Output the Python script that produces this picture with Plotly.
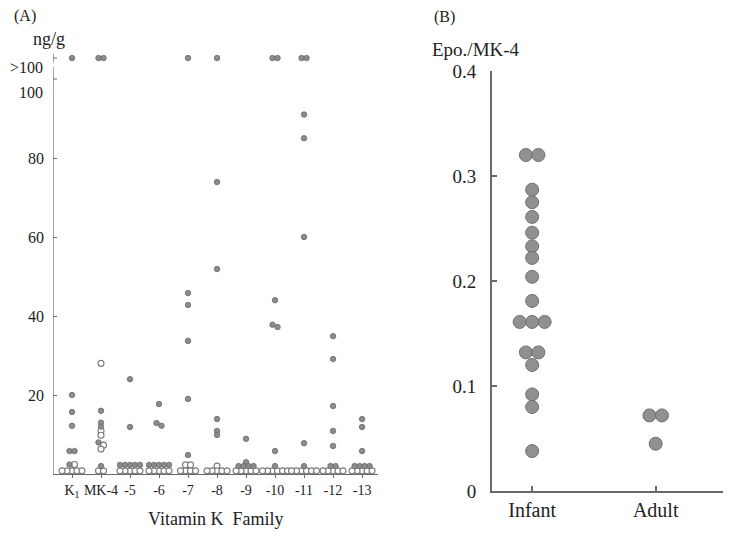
import plotly.graph_objects as go

# ---------------- data ----------------
OVER = 105.3  # plotting level used for the ">100 ng/g" row

cats_A = ["K<sub>1</sub>", "MK-4", "-5", "-6", "-7", "-8", "-9", "-10", "-11", "-12", "-13"]

filled_K1 = [OVER, 20.0, 15.7, 12.2, 5.8, 5.8, 2.4]
filled_MK4 = [OVER, OVER, 16.0, 13.0, 12.0, 8.0, 2.0]
filled_5 = [24.0, 11.9, 2.3, 2.3, 2.3, 2.3, 2.3]
filled_6 = [17.7, 12.9, 12.2, 2.3, 2.3, 2.3, 2.3, 2.3]
filled_7 = [OVER, 45.8, 42.8, 33.7, 19.0, 4.8]
filled_8 = [OVER, 73.9, 51.9, 13.9, 10.9, 9.9]
filled_9 = [8.9, 3.0, 2.0, 2.0, 2.0, 2.0]
filled_10 = [OVER, OVER, 44.0, 37.8, 37.2, 5.8, 2.0]
filled_11 = [OVER, OVER, 91.0, 85.0, 60.0, 7.8, 2.0]
filled_12 = [34.9, 29.1, 17.2, 10.9, 7.1, 2.0, 2.0]
filled_13 = [13.9, 11.9, 5.8, 2.0, 2.0, 2.0, 2.0]

open_K1 = [2.4, 0.8, 0.8, 0.8, 0.8, 0.8]
open_MK4 = [28.0, 10.9, 9.8, 7.3, 6.3, 0.8, 0.8]
open_5 = [0.8, 0.8, 0.8, 0.8, 0.8]
open_6 = [0.8, 0.8, 0.8, 0.8, 0.8]
open_7 = [2.3, 2.3, 0.8, 0.8, 0.8, 0.8]
open_8 = [2.0, 0.8, 0.8, 0.8, 0.8, 0.8]
open_9 = [0.8, 0.8, 0.8, 0.8, 0.8]
open_10 = [0.8, 0.8, 0.8, 0.8, 0.8, 0.8]
open_11 = [0.8, 0.8, 0.8, 0.8, 0.8, 0.8]
open_12 = [0.8, 0.8, 0.8, 0.8, 0.8]
open_13 = [0.8, 0.8, 0.8, 0.8, 0.8]

filled_A = [filled_K1, filled_MK4, filled_5, filled_6, filled_7, filled_8,
            filled_9, filled_10, filled_11, filled_12, filled_13]
open_A = [open_K1, open_MK4, open_5, open_6, open_7, open_8,
          open_9, open_10, open_11, open_12, open_13]

ytick_vals_A = [20, 40, 60, 80]

cats_B = ["Infant", "Adult"]
ratio_infant = [0.32, 0.32, 0.287, 0.275, 0.261, 0.246, 0.233, 0.222, 0.204,
                0.181, 0.161, 0.161, 0.161, 0.132, 0.132, 0.120, 0.092, 0.080, 0.038]
ratio_adult = [0.072, 0.072, 0.045]
ratio_B = [ratio_infant, ratio_adult]
ytick_vals_B = [0, 0.1, 0.2, 0.3, 0.4]

# ---------------- geometry ----------------
W, H = 732, 536


def px_x(s):
    return s / W


def px_y(s):
    return 1 - s / H


A_px_x = (53, 378)
A_px_y = (474, 39.5)
A_xr = [-0.655, 10.55]
A_yr = [0, 110]
B_px_x = (492, 723)
B_px_y = (491, 71)
B_xr = [-0.325, 1.545]
B_yr = [0, 0.4]

A_ppx = (A_px_x[1] - A_px_x[0]) / (A_xr[1] - A_xr[0])
A_ppy = (A_px_y[0] - A_px_y[1]) / (A_yr[1] - A_yr[0])
B_ppx = (B_px_x[1] - B_px_x[0]) / (B_xr[1] - B_xr[0])
B_ppy = (B_px_y[0] - B_px_y[1]) / (B_yr[1] - B_yr[0])


def swarm(vals, ppy, step, thresh):
    """Horizontal pixel offsets so overlapping points sit side by side."""
    n = len(vals)
    ys = [v * ppy for v in vals]
    order = sorted(range(n), key=lambda i: -vals[i])
    off = [0.0] * n
    placed = []
    cands = [0.0] + [s * k * step for k in range(1, 12) for s in (1, -1)]
    for i in order:
        chosen = 0.0
        for c in cands:
            if all((c - off[j]) ** 2 + (ys[i] - ys[j]) ** 2 >= thresh ** 2 - 1e-9 for j in placed):
                chosen = c
                break
        off[i] = chosen
        placed.append(i)
    parent = list(range(n))

    def find(a):
        while parent[a] != a:
            parent[a] = parent[parent[a]]
            a = parent[a]
        return a

    for i in range(n):
        for j in range(i + 1, n):
            if abs(ys[i] - ys[j]) < thresh:
                parent[find(i)] = find(j)
    comps = {}
    for i in range(n):
        comps.setdefault(find(i), []).append(i)
    for mem in comps.values():
        if len(mem) > 1:
            m = sum(off[k] for k in mem) / len(mem)
            for k in mem:
                off[k] -= m
    return off


FILL = "#8c8c8c"
EDGE = "#6a6a6a"
AXC = "#6a6a6a"
TXT = "#222222"
FONT = "Liberation Serif"

fig = go.Figure()

fx, fy, ox, oy = [], [], [], []
for ci in range(len(cats_A)):
    f = filled_A[ci]
    o = open_A[ci]
    allv = f + o
    offs = swarm(allv, A_ppy, 5.0, 3.5)
    for k, v in enumerate(allv):
        xv = ci + offs[k] / A_ppx
        if k < len(f):
            fx.append(xv); fy.append(v)
        else:
            ox.append(xv); oy.append(v)

fig.add_trace(go.Scatter(x=ox, y=oy, mode="markers", xaxis="x", yaxis="y",
                         marker=dict(size=6, color="white", line=dict(color="#7a7a7a", width=1.1)),
                         cliponaxis=False, showlegend=False, hoverinfo="skip"))
fig.add_trace(go.Scatter(x=fx, y=fy, mode="markers", xaxis="x", yaxis="y",
                         marker=dict(size=5.5, color=FILL, line=dict(color=EDGE, width=0.8)),
                         cliponaxis=False, showlegend=False, hoverinfo="skip"))

bx, by = [], []
for gi in range(len(cats_B)):
    vals = ratio_B[gi]
    offs = swarm(vals, B_ppy, 12.5, 10.0)
    for k, v in enumerate(vals):
        bx.append(gi + offs[k] / B_ppx)
        by.append(v)
fig.add_trace(go.Scatter(x=bx, y=by, mode="markers", xaxis="x2", yaxis="y2",
                         marker=dict(size=13, color="#909090", line=dict(color="#707070", width=1)),
                         cliponaxis=False, showlegend=False, hoverinfo="skip"))

fig.update_layout(
    width=W, height=H, autosize=False, hovermode=False,
    margin=dict(l=0, r=0, t=0, b=0, pad=0, autoexpand=False),
    paper_bgcolor="white", plot_bgcolor="white",
    xaxis=dict(domain=[px_x(A_px_x[0]), px_x(A_px_x[1])], range=A_xr, anchor="y",
               tickvals=list(range(len(cats_A))), ticktext=cats_A,
               ticks="outside", ticklen=3, tickcolor=AXC, tickwidth=1,
               showline=True, linecolor=AXC, linewidth=1.2,
               showgrid=False, zeroline=False, automargin=False,
               tickfont=dict(family=FONT, size=14, color=TXT)),
    yaxis=dict(domain=[px_y(A_px_y[0]), px_y(A_px_y[1])], range=A_yr, anchor="x",
               tickvals=ytick_vals_A, ticktext=[str(v) for v in ytick_vals_A],
               ticks="inside", ticklen=4, tickcolor=AXC, tickwidth=1,
               showline=False, showgrid=False, zeroline=False, automargin=False,
               ticklabelstandoff=8, tickfont=dict(family=FONT, size=16, color=TXT)),
    xaxis2=dict(domain=[px_x(B_px_x[0]), px_x(B_px_x[1])], range=B_xr, anchor="y2",
                tickvals=[0, 1], ticktext=cats_B,
                ticks="inside", ticklen=5, tickcolor=AXC, tickwidth=1.5,
                showline=True, linecolor=AXC, linewidth=2,
                showgrid=False, zeroline=False, automargin=False,
                tickfont=dict(family=FONT, size=20, color=TXT)),
    yaxis2=dict(domain=[px_y(B_px_y[0]), px_y(B_px_y[1])], range=B_yr, anchor="x2",
                tickvals=ytick_vals_B, ticktext=["0", "0.1", "0.2", "0.3", "0.4"],
                ticks="inside", ticklen=5, tickcolor=AXC, tickwidth=1.5,
                showline=True, linecolor=AXC, linewidth=2,
                showgrid=False, zeroline=False, ticklabelstandoff=10, automargin=False,
                tickfont=dict(family=FONT, size=19, color=TXT)),
)

# panel A broken y-axis line with the 100 and >100 ticks
x_ax = A_xr[0]
tick_dx = 4 / A_ppx
fig.add_shape(type="line", xref="x", yref="y", x0=x_ax, x1=x_ax, y0=0, y1=103,
              line=dict(color=AXC, width=1.2))
fig.add_shape(type="line", xref="x", yref="y", x0=x_ax, x1=x_ax, y0=104.2, y1=106.4,
              line=dict(color=AXC, width=1.2))
for tv in (100, OVER):
    fig.add_shape(type="line", xref="x", yref="y", x0=x_ax, x1=x_ax + tick_dx, y0=tv, y1=tv,
                  line=dict(color=AXC, width=1))

ann = [
    dict(text="(A)", x=25, y=16, size=16),
    dict(text="ng/g", x=49, y=39, size=18),
    dict(text="Vitamin K\u00a0 Family", x=215, y=519, size=18),
    dict(text="(B)", x=445, y=17, size=16),
    dict(text="Epo./MK-4", x=476, y=50, size=19),
]
for a in ann:
    fig.add_annotation(text=a["text"], x=px_x(a["x"]), y=px_y(a["y"]), xref="paper", yref="paper",
                       xanchor="center", yanchor="middle", showarrow=False,
                       font=dict(family=FONT, size=a["size"], color=TXT))
for txt, ypx in [(">100", 67), ("100", 93)]:
    fig.add_annotation(text=txt, x=px_x(45), y=px_y(ypx), xref="paper", yref="paper",
                       xanchor="right", yanchor="middle", showarrow=False,
                       font=dict(family=FONT, size=16, color=TXT))

# remove the browser's default 8 px body margin so the figure sits at the page origin
fig.write_html("out.html", config={"displayModeBar": False},
               post_script="document.body.style.margin='0px';")
